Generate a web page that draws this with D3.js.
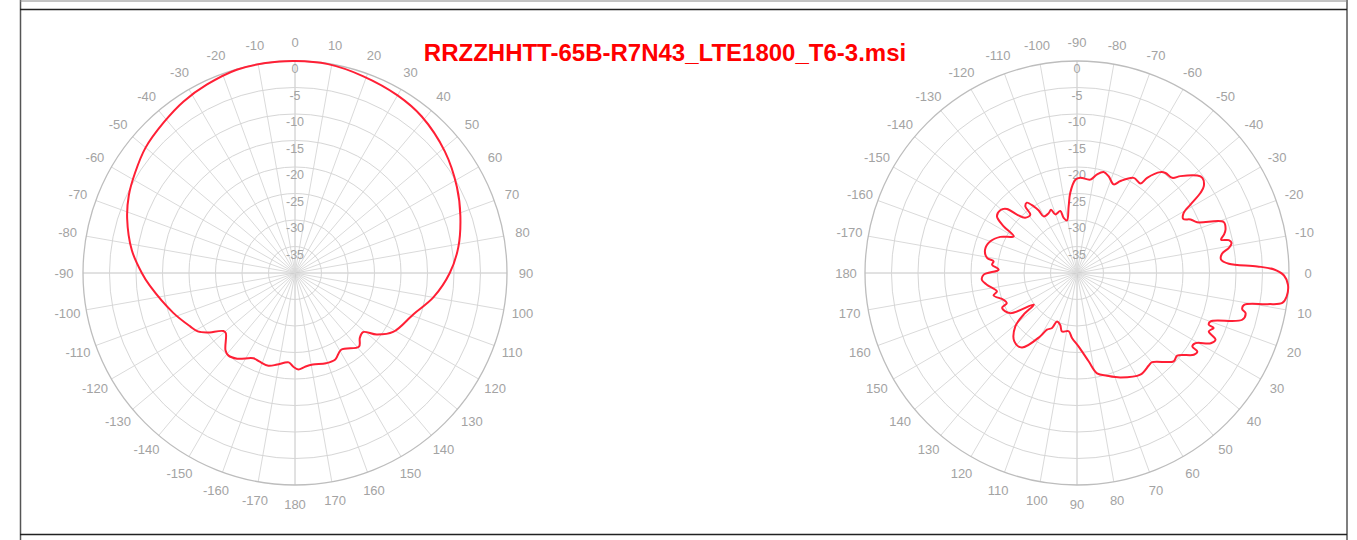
<!DOCTYPE html>
<html>
<head>
<meta charset="utf-8">
<script src="https://cdn.jsdelivr.net/npm/d3@7"></script>
<style>
  html, body { margin: 0; padding: 0; background: #fff; }
  svg { display: block; }
</style>
</head>
<body>
<svg id="chart" width="1357" height="540"></svg>
<script>
// ---------------- DATA ----------------
const chartTitle = "RRZZHHTT-65B-R7N43_LTE1800_T6-3.msi";

// radial (dB) ring levels
const ringLevels = [0, -5, -10, -15, -20, -25, -30, -35];

// angular tick labels, listed clockwise from 12 o'clock
const leftAngleLabels = [0, 10, 20, 30, 40, 50, 60, 70, 80, 90, 100, 110, 120, 130, 140, 150, 160, 170, 180,
  -170, -160, -150, -140, -130, -120, -110, -100, -90, -80, -70, -60, -50, -40, -30, -20, -10];
const rightAngleLabels = [-90, -80, -70, -60, -50, -40, -30, -20, -10, 0, 10, 20, 30, 40, 50, 60, 70, 80, 90,
  100, 110, 120, 130, 140, 150, 160, 170, 180, -170, -160, -150, -140, -130, -120, -110, -100];

// left pattern (horizontal): azimuth in degrees, gain in dB
const leftAz = [0, 9, 19, 30, 39, 51, 62, 71, 81, 90, 100, 109, 121, 127, 131, 135, 139, 149, 155, 161, 169, 174, 178,
  -179, -176, -169, -164, -158, -154, -146, -141, -138, -131, -129, -124, -121, -117, -108, -95, -90, -82, -72, -65,
  -58, -50, -41, -33, -25, -16, -8];
const leftGain = [0, -0.1, -0.7, -1.3, -2.0, -3.6, -5.4, -7.0, -8.8, -10.8, -13.5, -16.3, -18.4, -20.7, -23.0, -22.7,
  -21.6, -23.1, -22.0, -22.0, -22.4, -22.2, -21.8, -22.3, -23.1, -22.4, -21.8, -22.0, -22.1, -20.5, -20.0, -20.4,
  -22.7, -22.6, -19.9, -18.6, -17.8, -15.8, -12.5, -11.1, -8.9, -6.7, -5.4, -4.4, -3.2, -2.3, -1.4, -0.75, -0.1, 0];

// right pattern (vertical): elevation angle in degrees, gain in dB
const rightEl = [-91.0, -88.0, -81.9, -78.5, -75.2, -71.9, -67.5, -64.7, -59.2, -54.7, -53.6, -50.4, -48.5, -45.0,
  -43.1, -39.0, -37.2, -34.4, -33.0, -31.1, -29.4, -27.0, -25.2, -22.9, -19.2, -16.3, -14.6, -13.0, -12.2, -11.0,
  -9.4, -7.6, -5.3, -3.5, -2.1, -1.0, 0.7, 3.2, 6.4, 8.3, 9.3, 10.8, 12.3, 13.4, 15.8, 19.9, 21.4, 21.9, 23.9, 25.7,
  27.7, 30.6, 32.5, 33.1, 35.0, 39.5, 42.4, 49.9, 52.2, 58.1, 67.4, 73.7, 78.7, 82.5, 88.7, 94.4, 98.1, 104.4, 107.9,
  112.5, 114.4, 117.9, 120.1, 126.5, 132.5, 139.1, 142.0, 143.8, 149.0, 155.0, 156.8, 160.0, 165.0, 167.1, 172.6,
  176.0, 179.0, -177.6, -174.4, -172.0, -170.5, -165.7, -159.9, -154.8, -149.9, -147.5, -144.7, -140.7, -137.6,
  -135.8, -133.2, -128.7, -127.8, -125.5, -123.0, -121.5, -120.5, -115.3, -112.3, -110.4, -105.1, -103.6, -100.8,
  -97.1, -94.8];
const rightGain = [-22.4, -22.0, -22.2, -21.0, -20.3, -20.8, -21.9, -20.8, -19.1, -19.3, -17.7, -15.3, -14.8, -14.6,
  -13.25, -10.8, -10.3, -11.0, -12.2, -15.0, -16.9, -17.5, -16.3, -15.4, -10.7, -10.8, -11.35, -12.1, -10.7, -10.3,
  -10.95, -12.4, -12.7, -11.3, -5.96, -2.8, -0.94, -0.13, -0.2, -0.85, -3.6, -7.9, -8.1, -7.3, -7.6, -13.2, -13.3,
  -12.2, -12.8, -11.0, -11.5, -14.0, -14.2, -12.9, -13.1, -15.5, -15.3, -18.0, -17.9, -17.4, -18.65, -19.8, -20.7,
  -23.2, -26.1, -27.7, -28.9, -28.6, -29.7, -30.1, -28.6, -27.9, -26.2, -22.5, -22.5, -24.6, -27.2, -29.9, -25.3,
  -24.4, -25.6, -25.25, -23.7, -24.5, -22.85, -22.0, -22.4, -25.2, -23.9, -24.1, -22.8, -22.1, -22.6, -24.0, -26.2,
  -23.6, -21.5, -21.3, -22.1, -24.2, -25.7, -25.9, -24.1, -23.7, -25.0, -26.1, -27.6, -27.5, -27.1, -28.2, -27.9,
  -29.3, -29.9, -27.3, -24.8];

// ---------------- DRAW ----------------
const svg = d3.select("#chart");
const W = 1357, H = 540;
const R = 212, labelR = 231;
const rScale = d3.scaleLinear().domain([-40, 0]).range([0, R]);

// page frame (document table cell)
const frame = svg.append("g");
frame.append("line").attr("x1", 20.5).attr("x2", 20.5).attr("y1", 0).attr("y2", H).attr("stroke", "#555").attr("stroke-width", 1.5);
frame.append("line").attr("x1", 1347).attr("x2", 1347).attr("y1", 0).attr("y2", H).attr("stroke", "#555").attr("stroke-width", 1.5);
frame.append("line").attr("x1", 20).attr("x2", 1347).attr("y1", 1).attr("y2", 1).attr("stroke", "#888").attr("stroke-width", 1);
frame.append("line").attr("x1", 20).attr("x2", 1347).attr("y1", 9.5).attr("y2", 9.5).attr("stroke", "#222").attr("stroke-width", 1.5);
frame.append("line").attr("x1", 20).attr("x2", 1347).attr("y1", 534.5).attr("y2", 534.5).attr("stroke", "#222").attr("stroke-width", 1.5);

function drawPolar(cx, cy, labels, angleOffset, az, gain) {
  const g = svg.append("g").attr("transform", `translate(${cx},${cy})`);
  const toRad = d => (d + angleOffset) * Math.PI / 180;

  // spokes
  labels.forEach((lab, i) => {
    const a = toRad(lab);
    const axis = (i % 9 === 0);
    g.append("line")
      .attr("x1", 0).attr("y1", 0)
      .attr("x2", R * Math.sin(a)).attr("y2", -R * Math.cos(a))
      .attr("stroke", axis ? "#c4c4c4" : "#dadada").attr("stroke-width", 1);
  });
  // rings
  ringLevels.forEach(v => {
    g.append("circle").attr("r", rScale(v)).attr("fill", "none")
      .attr("stroke", v === 0 ? "#bdbdbd" : "#d6d6d6").attr("stroke-width", v === 0 ? 1.3 : 1);
  });
  // ring labels along upper vertical axis
  ringLevels.forEach(v => {
    g.append("text").attr("x", 0).attr("y", -rScale(v) + 8)
      .attr("text-anchor", "middle").attr("dominant-baseline", "central")
      .attr("font-family", "Liberation Sans, Arial, sans-serif").attr("font-size", 12.5)
      .attr("fill", "#a3a3a3").text(v);
  });
  // angle labels
  labels.forEach(lab => {
    const a = toRad(lab);
    g.append("text")
      .attr("x", labelR * Math.sin(a)).attr("y", -labelR * Math.cos(a))
      .attr("text-anchor", "middle").attr("dominant-baseline", "central")
      .attr("font-family", "Liberation Sans, Arial, sans-serif").attr("font-size", 13)
      .attr("fill", "#a3a3a3").text(lab);
  });
  // pattern
  const pts = az.map((d, i) => [toRad(d), rScale(gain[i])]);
  const line = d3.lineRadial().curve(d3.curveCatmullRomClosed.alpha(0.5));
  g.append("path").attr("d", line(pts)).attr("fill", "none")
    .attr("stroke", "#ff1f35").attr("stroke-width", 2).attr("stroke-linejoin", "round");
}

drawPolar(295, 273, leftAngleLabels, 0, leftAz, leftGain);
drawPolar(1077, 273, rightAngleLabels, 90, rightEl, rightGain);

// title
svg.append("text").attr("x", 665).attr("y", 61).attr("text-anchor", "middle")
  .attr("font-family", "Liberation Sans, Arial, sans-serif").attr("font-weight", "bold")
  .attr("font-size", 24).attr("fill", "#ff0000").text(chartTitle);
</script>
</body>
</html>
